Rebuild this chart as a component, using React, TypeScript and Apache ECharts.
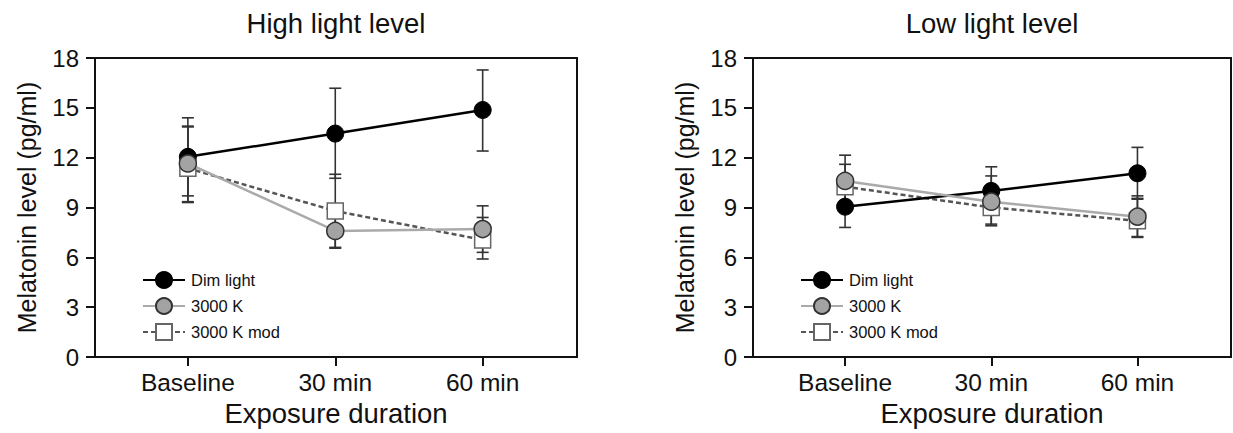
import React, { useEffect, useRef } from "react";
import * as echarts from "echarts";

const categories = ["Baseline", "30 min", "60 min"];
const seriesNames = ["Dim light", "3000 K", "3000 K mod"];
const panelTitles = ["High light level", "Low light level"];
const yTicks = [0, 3, 6, 9, 12, 15, 18];

// High light level
const dimHigh = [12.05, 13.45, 14.87];
const dimHighLow = [9.7, 10.76, 12.4];
const dimHighHigh = [14.4, 16.18, 17.28];
const k3000High = [11.65, 7.59, 7.7];
const k3000HighLow = [9.35, 6.55, 6.3];
const k3000HighHigh = [13.9, 8.65, 9.1];
const modHigh = [11.36, 8.79, 7.05];
const modHighLow = [9.3, 6.6, 5.9];
const modHighHigh = [13.85, 11.0, 8.4];

// Low light level
const dimLow = [9.05, 10.0, 11.06];
const dimLowLow = [7.8, 8.55, 9.5];
const dimLowHigh = [10.3, 11.45, 12.62];
const k3000Low = [10.6, 9.35, 8.45];
const k3000LowLow = [9.05, 7.9, 7.2];
const k3000LowHigh = [12.15, 10.9, 9.7];
const modLow = [10.25, 9.0, 8.2];
const modLowLow = [8.9, 8.0, 7.25];
const modLowHigh = [11.6, 10.0, 9.55];

const FONT = "'Liberation Sans', Arial, sans-serif";

const styles = {
  "Dim light": {
    line: { color: "#000", width: 2.5, type: "solid" as const },
    item: { color: "#000", borderColor: "#000", borderWidth: 1 },
    symbol: "circle",
  },
  "3000 K": {
    line: { color: "#aaaaaa", width: 2.5, type: "solid" as const },
    item: { color: "#a3a3a3", borderColor: "#333", borderWidth: 1.5 },
    symbol: "circle",
  },
  "3000 K mod": {
    line: { color: "#555", width: 2.5, type: [5, 3] as any },
    item: { color: "#fff", borderColor: "#666", borderWidth: 1.5 },
    symbol: "rect",
  },
};

function toPoints(vals: number[]) {
  return vals.map((v, i) => [i, v]);
}
function toErr(lo: number[], hi: number[]) {
  return lo.map((l, i) => [i, l, hi[i]]);
}

const renderErr = (params: any, api: any) => {
  const x = api.value(0);
  const pLo = api.coord([x, api.value(1)]);
  const pHi = api.coord([x, api.value(2)]);
  const hw = 6;
  const st = { stroke: "#333", lineWidth: 1.6 };
  return {
    type: "group",
    children: [
      { type: "line", shape: { x1: pLo[0], y1: pLo[1], x2: pHi[0], y2: pHi[1] }, style: st },
      { type: "line", shape: { x1: pLo[0] - hw, y1: pLo[1], x2: pLo[0] + hw, y2: pLo[1] }, style: st },
      { type: "line", shape: { x1: pHi[0] - hw, y1: pHi[1], x2: pHi[0] + hw, y2: pHi[1] }, style: st },
    ],
  };
};

export default function App() {
  const ref = useRef<HTMLDivElement>(null);
  useEffect(() => {
    document.body.style.margin = "0";
    if (!ref.current) return;
    const chart = echarts.init(ref.current, undefined, { renderer: "svg" });

    const panels = [
      {
        left: 95, width: 482, center: 336,
        data: [
          [dimHigh, dimHighLow, dimHighHigh],
          [k3000High, k3000HighLow, k3000HighHigh],
          [modHigh, modHighLow, modHighHigh],
        ],
      },
      {
        left: 753, width: 478, center: 992,
        data: [
          [dimLow, dimLowLow, dimLowHigh],
          [k3000Low, k3000LowLow, k3000LowHigh],
          [modLow, modLowLow, modLowHigh],
        ],
      },
    ];

    const grid = panels.map((p) => ({
      left: p.left, top: 58, width: p.width, height: 299,
      show: true, borderColor: "#111", borderWidth: 2, backgroundColor: "transparent",
    }));

    const xAxis = panels.map((p, i) => ({
      type: "value", gridIndex: i, min: -0.63, max: 2.64,
      name: "Exposure duration", nameLocation: "middle", nameGap: 42,
      nameTextStyle: { fontSize: 27.5, color: "#111", fontFamily: FONT },
      axisLine: { show: true, onZero: false, lineStyle: { color: "#111", width: 2 } },
      axisTick: { show: true, customValues: [0, 1, 2], length: 9, lineStyle: { color: "#111", width: 2 } },
      axisLabel: {
        customValues: [0, 1, 2], formatter: (v: number) => categories[Math.round(v)] ?? "",
        fontSize: 24.5, color: "#111", fontFamily: FONT, margin: 13,
      },
      splitLine: { show: false },
    }));

    const yAxis = panels.map((p, i) => ({
      type: "value", gridIndex: i, min: 0, max: 18, interval: 3,
      name: "Melatonin level (pg/ml)", nameLocation: "middle", nameGap: 56,
      nameTextStyle: { fontSize: 25, color: "#111", fontFamily: FONT },
      axisLine: { show: true, onZero: false, lineStyle: { color: "#111", width: 2 } },
      axisTick: { show: true, length: 9, lineStyle: { color: "#111", width: 2 } },
      axisLabel: { fontSize: 24, color: "#111", fontFamily: FONT, margin: 16,
        formatter: (v: number) => (yTicks.includes(v) ? String(v) : "") },
      splitLine: { show: false },
    }));

    const series: any[] = [];
    const drawOrder = [2, 0, 1];
    panels.forEach((p, pi) => {
      drawOrder.forEach((si) => {
        const name = seriesNames[si];
        const [, lo, hi] = p.data[si];
        series.push({
          type: "custom", name: name + " error", xAxisIndex: pi, yAxisIndex: pi,
          renderItem: renderErr, data: toErr(lo, hi), encode: { x: 0, y: [1, 2] }, z: 1,
          silent: true,
        });
      });
      drawOrder.forEach((si, k) => {
        const name = seriesNames[si];
        const st = (styles as any)[name];
        const [vals] = p.data[si];
        series.push({
          type: "line", name, xAxisIndex: pi, yAxisIndex: pi, data: toPoints(vals),
          symbol: st.symbol, symbolSize: si === 2 ? 16 : 17, showSymbol: true,
          lineStyle: st.line, itemStyle: st.item, z: 3 + k,
        });
      });
    });

    const legend = panels.map((p) => ({
      data: seriesNames, orient: "vertical", left: p.left + 42, top: 266,
      itemWidth: 42, itemHeight: 20, itemGap: 8,
      textStyle: { fontSize: 16.5, color: "#111", fontFamily: FONT, padding: [0, 0, 0, 1] },
      selectedMode: false,
    }));

    const graphic = panels.map((p, i) => ({
      type: "text", x: p.center, y: 23,
      style: { text: panelTitles[i], align: "center", verticalAlign: "middle",
        fontSize: 27.5, fill: "#111", fontFamily: FONT },
    }));

    chart.setOption({
      animation: false,
      backgroundColor: "#fff",
      grid, xAxis, yAxis, series, legend, graphic,
    } as any);
    return () => chart.dispose();
  }, []);
  return <div ref={ref} style={{ width: 1233, height: 433 }} />;
}
